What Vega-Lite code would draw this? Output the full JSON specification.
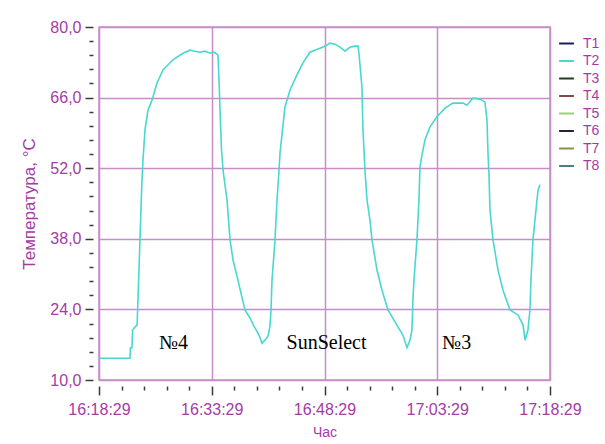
{
  "$schema": "https://vega.github.io/schema/vega-lite/v6.json",
  "autosize": {"type": "none"},
  "padding": {"left": 99, "top": 27, "right": 55, "bottom": 64},
  "width": 451,
  "height": 353,
  "background": "white",
  "config": {
    "view": {"stroke": "#c88cc8", "strokeWidth": 1.5},
    "font": "Liberation Sans"
  },
  "datasets": {
    "temps": [
      {"time": "2024-01-01T16:18:29", "value": 14.3, "series": "T2"},
      {"time": "2024-01-01T16:22:36", "value": 14.3, "series": "T2"},
      {"time": "2024-01-01T16:22:40", "value": 16.4, "series": "T2"},
      {"time": "2024-01-01T16:22:52", "value": 16.4, "series": "T2"},
      {"time": "2024-01-01T16:22:57", "value": 19.9, "series": "T2"},
      {"time": "2024-01-01T16:23:16", "value": 20.5, "series": "T2"},
      {"time": "2024-01-01T16:23:33", "value": 20.9, "series": "T2"},
      {"time": "2024-01-01T16:23:40", "value": 25.9, "series": "T2"},
      {"time": "2024-01-01T16:23:48", "value": 31.8, "series": "T2"},
      {"time": "2024-01-01T16:23:56", "value": 37.8, "series": "T2"},
      {"time": "2024-01-01T16:24:10", "value": 48.3, "series": "T2"},
      {"time": "2024-01-01T16:24:20", "value": 53.6, "series": "T2"},
      {"time": "2024-01-01T16:24:36", "value": 59.6, "series": "T2"},
      {"time": "2024-01-01T16:25:00", "value": 63.5, "series": "T2"},
      {"time": "2024-01-01T16:25:32", "value": 65.5, "series": "T2"},
      {"time": "2024-01-01T16:26:12", "value": 68.9, "series": "T2"},
      {"time": "2024-01-01T16:27:00", "value": 71.5, "series": "T2"},
      {"time": "2024-01-01T16:28:19", "value": 73.5, "series": "T2"},
      {"time": "2024-01-01T16:29:39", "value": 74.8, "series": "T2"},
      {"time": "2024-01-01T16:30:36", "value": 75.4, "series": "T2"},
      {"time": "2024-01-01T16:31:15", "value": 75.2, "series": "T2"},
      {"time": "2024-01-01T16:31:55", "value": 75.0, "series": "T2"},
      {"time": "2024-01-01T16:32:35", "value": 75.2, "series": "T2"},
      {"time": "2024-01-01T16:33:15", "value": 74.8, "series": "T2"},
      {"time": "2024-01-01T16:33:47", "value": 75.0, "series": "T2"},
      {"time": "2024-01-01T16:34:11", "value": 74.6, "series": "T2"},
      {"time": "2024-01-01T16:34:19", "value": 74.4, "series": "T2"},
      {"time": "2024-01-01T16:34:27", "value": 69.5, "series": "T2"},
      {"time": "2024-01-01T16:34:35", "value": 63.5, "series": "T2"},
      {"time": "2024-01-01T16:34:47", "value": 55.6, "series": "T2"},
      {"time": "2024-01-01T16:34:59", "value": 51.6, "series": "T2"},
      {"time": "2024-01-01T16:35:31", "value": 45.7, "series": "T2"},
      {"time": "2024-01-01T16:35:55", "value": 37.8, "series": "T2"},
      {"time": "2024-01-01T16:36:19", "value": 33.8, "series": "T2"},
      {"time": "2024-01-01T16:36:58", "value": 29.8, "series": "T2"},
      {"time": "2024-01-01T16:37:54", "value": 23.9, "series": "T2"},
      {"time": "2024-01-01T16:38:34", "value": 22.3, "series": "T2"},
      {"time": "2024-01-01T16:39:06", "value": 20.7, "series": "T2"},
      {"time": "2024-01-01T16:39:38", "value": 19.3, "series": "T2"},
      {"time": "2024-01-01T16:39:54", "value": 18.4, "series": "T2"},
      {"time": "2024-01-01T16:40:10", "value": 17.3, "series": "T2"},
      {"time": "2024-01-01T16:40:34", "value": 17.9, "series": "T2"},
      {"time": "2024-01-01T16:40:58", "value": 18.7, "series": "T2"},
      {"time": "2024-01-01T16:41:14", "value": 20.7, "series": "T2"},
      {"time": "2024-01-01T16:41:22", "value": 23.9, "series": "T2"},
      {"time": "2024-01-01T16:41:30", "value": 29.8, "series": "T2"},
      {"time": "2024-01-01T16:41:54", "value": 37.8, "series": "T2"},
      {"time": "2024-01-01T16:42:10", "value": 45.7, "series": "T2"},
      {"time": "2024-01-01T16:42:26", "value": 51.6, "series": "T2"},
      {"time": "2024-01-01T16:42:34", "value": 55.0, "series": "T2"},
      {"time": "2024-01-01T16:43:13", "value": 64.1, "series": "T2"},
      {"time": "2024-01-01T16:43:54", "value": 67.5, "series": "T2"},
      {"time": "2024-01-01T16:44:49", "value": 70.5, "series": "T2"},
      {"time": "2024-01-01T16:45:37", "value": 72.9, "series": "T2"},
      {"time": "2024-01-01T16:46:33", "value": 75.0, "series": "T2"},
      {"time": "2024-01-01T16:47:53", "value": 75.8, "series": "T2"},
      {"time": "2024-01-01T16:48:33", "value": 76.2, "series": "T2"},
      {"time": "2024-01-01T16:49:13", "value": 76.8, "series": "T2"},
      {"time": "2024-01-01T16:49:53", "value": 76.6, "series": "T2"},
      {"time": "2024-01-01T16:50:33", "value": 76.0, "series": "T2"},
      {"time": "2024-01-01T16:51:13", "value": 75.2, "series": "T2"},
      {"time": "2024-01-01T16:51:52", "value": 76.0, "series": "T2"},
      {"time": "2024-01-01T16:52:33", "value": 76.2, "series": "T2"},
      {"time": "2024-01-01T16:52:57", "value": 76.2, "series": "T2"},
      {"time": "2024-01-01T16:53:04", "value": 74.8, "series": "T2"},
      {"time": "2024-01-01T16:53:28", "value": 68.1, "series": "T2"},
      {"time": "2024-01-01T16:53:36", "value": 59.6, "series": "T2"},
      {"time": "2024-01-01T16:53:52", "value": 51.6, "series": "T2"},
      {"time": "2024-01-01T16:54:08", "value": 45.7, "series": "T2"},
      {"time": "2024-01-01T16:54:32", "value": 41.7, "series": "T2"},
      {"time": "2024-01-01T16:54:48", "value": 37.8, "series": "T2"},
      {"time": "2024-01-01T16:55:28", "value": 31.8, "series": "T2"},
      {"time": "2024-01-01T16:56:08", "value": 27.8, "series": "T2"},
      {"time": "2024-01-01T16:56:56", "value": 23.9, "series": "T2"},
      {"time": "2024-01-01T16:58:07", "value": 20.9, "series": "T2"},
      {"time": "2024-01-01T16:58:55", "value": 18.9, "series": "T2"},
      {"time": "2024-01-01T16:59:27", "value": 16.4, "series": "T2"},
      {"time": "2024-01-01T16:59:51", "value": 17.9, "series": "T2"},
      {"time": "2024-01-01T17:00:07", "value": 19.9, "series": "T2"},
      {"time": "2024-01-01T17:00:15", "value": 25.9, "series": "T2"},
      {"time": "2024-01-01T17:00:23", "value": 29.8, "series": "T2"},
      {"time": "2024-01-01T17:00:47", "value": 37.8, "series": "T2"},
      {"time": "2024-01-01T17:01:03", "value": 45.7, "series": "T2"},
      {"time": "2024-01-01T17:01:11", "value": 52.2, "series": "T2"},
      {"time": "2024-01-01T17:01:27", "value": 54.6, "series": "T2"},
      {"time": "2024-01-01T17:01:51", "value": 57.6, "series": "T2"},
      {"time": "2024-01-01T17:02:31", "value": 60.2, "series": "T2"},
      {"time": "2024-01-01T17:03:27", "value": 62.2, "series": "T2"},
      {"time": "2024-01-01T17:04:31", "value": 63.9, "series": "T2"},
      {"time": "2024-01-01T17:05:34", "value": 64.9, "series": "T2"},
      {"time": "2024-01-01T17:06:54", "value": 64.9, "series": "T2"},
      {"time": "2024-01-01T17:07:26", "value": 64.5, "series": "T2"},
      {"time": "2024-01-01T17:08:14", "value": 65.9, "series": "T2"},
      {"time": "2024-01-01T17:09:10", "value": 65.7, "series": "T2"},
      {"time": "2024-01-01T17:09:50", "value": 65.1, "series": "T2"},
      {"time": "2024-01-01T17:10:06", "value": 61.6, "series": "T2"},
      {"time": "2024-01-01T17:10:14", "value": 55.0, "series": "T2"},
      {"time": "2024-01-01T17:10:22", "value": 50.7, "series": "T2"},
      {"time": "2024-01-01T17:10:30", "value": 43.7, "series": "T2"},
      {"time": "2024-01-01T17:10:54", "value": 37.8, "series": "T2"},
      {"time": "2024-01-01T17:11:34", "value": 31.8, "series": "T2"},
      {"time": "2024-01-01T17:12:14", "value": 27.8, "series": "T2"},
      {"time": "2024-01-01T17:13:10", "value": 23.9, "series": "T2"},
      {"time": "2024-01-01T17:14:13", "value": 22.9, "series": "T2"},
      {"time": "2024-01-01T17:14:54", "value": 20.9, "series": "T2"},
      {"time": "2024-01-01T17:15:10", "value": 17.9, "series": "T2"},
      {"time": "2024-01-01T17:15:33", "value": 19.9, "series": "T2"},
      {"time": "2024-01-01T17:15:49", "value": 23.9, "series": "T2"},
      {"time": "2024-01-01T17:15:57", "value": 29.8, "series": "T2"},
      {"time": "2024-01-01T17:16:13", "value": 37.8, "series": "T2"},
      {"time": "2024-01-01T17:16:29", "value": 41.7, "series": "T2"},
      {"time": "2024-01-01T17:16:45", "value": 45.7, "series": "T2"},
      {"time": "2024-01-01T17:16:54", "value": 47.7, "series": "T2"},
      {"time": "2024-01-01T17:17:09", "value": 48.7, "series": "T2"}
    ],
    "labels": [
      {"time": "2024-01-01T16:28:24", "value": 17.4, "label": "№4"},
      {"time": "2024-01-01T16:48:45", "value": 17.4, "label": "SunSelect"},
      {"time": "2024-01-01T17:06:04", "value": 17.4, "label": "№3"}
    ]
  },
  "encoding": {
    "x": {
      "field": "time",
      "type": "temporal",
      "scale": {
        "domain": [
          {"year": 2024, "month": 1, "date": 1, "hours": 16, "minutes": 18, "seconds": 29},
          {"year": 2024, "month": 1, "date": 1, "hours": 17, "minutes": 18, "seconds": 29}
        ]
      },
      "axis": {
        "title": "Час",
        "values": [
          {"year": 2024, "month": 1, "date": 1, "hours": 16, "minutes": 18, "seconds": 29},
          {"year": 2024, "month": 1, "date": 1, "hours": 16, "minutes": 21, "seconds": 29},
          {"year": 2024, "month": 1, "date": 1, "hours": 16, "minutes": 24, "seconds": 29},
          {"year": 2024, "month": 1, "date": 1, "hours": 16, "minutes": 27, "seconds": 29},
          {"year": 2024, "month": 1, "date": 1, "hours": 16, "minutes": 30, "seconds": 29},
          {"year": 2024, "month": 1, "date": 1, "hours": 16, "minutes": 33, "seconds": 29},
          {"year": 2024, "month": 1, "date": 1, "hours": 16, "minutes": 36, "seconds": 29},
          {"year": 2024, "month": 1, "date": 1, "hours": 16, "minutes": 39, "seconds": 29},
          {"year": 2024, "month": 1, "date": 1, "hours": 16, "minutes": 42, "seconds": 29},
          {"year": 2024, "month": 1, "date": 1, "hours": 16, "minutes": 45, "seconds": 29},
          {"year": 2024, "month": 1, "date": 1, "hours": 16, "minutes": 48, "seconds": 29},
          {"year": 2024, "month": 1, "date": 1, "hours": 16, "minutes": 51, "seconds": 29},
          {"year": 2024, "month": 1, "date": 1, "hours": 16, "minutes": 54, "seconds": 29},
          {"year": 2024, "month": 1, "date": 1, "hours": 16, "minutes": 57, "seconds": 29},
          {"year": 2024, "month": 1, "date": 1, "hours": 17, "minutes": 0, "seconds": 29},
          {"year": 2024, "month": 1, "date": 1, "hours": 17, "minutes": 3, "seconds": 29},
          {"year": 2024, "month": 1, "date": 1, "hours": 17, "minutes": 6, "seconds": 29},
          {"year": 2024, "month": 1, "date": 1, "hours": 17, "minutes": 9, "seconds": 29},
          {"year": 2024, "month": 1, "date": 1, "hours": 17, "minutes": 12, "seconds": 29},
          {"year": 2024, "month": 1, "date": 1, "hours": 17, "minutes": 15, "seconds": 29},
          {"year": 2024, "month": 1, "date": 1, "hours": 17, "minutes": 18, "seconds": 29}
        ],
        "labelExpr": "minutes(datum.value) % 15 == 3 ? timeFormat(datum.value, '%H:%M:%S') : ''",
        "tickSize": {"condition": {"test": "minutes(datum.value) % 15 == 3", "value": 9}, "value": 4},
        "grid": true,
        "gridColor": "#c88cc8",
        "gridWidth": 1.5,
        "gridOpacity": {"condition": {"test": "minutes(datum.value) % 15 == 3", "value": 1}, "value": 0},
        "domain": false,
        "offset": 6,
        "tickColor": "#3a3a3a",
        "tickWidth": 1.5,
        "labelColor": "#a43ca4",
        "labelFont": "Liberation Sans",
        "labelFontSize": 16,
        "labelPadding": 6,
        "labelFlush": false,
        "labelOverlap": false,
        "titleColor": "#a43ca4",
        "titleFont": "Liberation Sans",
        "titleFontSize": 14,
        "titleFontWeight": "normal",
        "titlePadding": 8
      }
    },
    "y": {
      "field": "value",
      "type": "quantitative",
      "scale": {"domain": [10, 80], "nice": false, "zero": false},
      "axis": {
        "title": "Температура, °C",
        "values": [10, 12.8, 15.6, 18.4, 21.2, 24, 26.8, 29.6, 32.4, 35.2, 38, 40.8, 43.6, 46.4, 49.2, 52, 54.8, 57.6, 60.4, 63.2, 66, 68.8, 71.6, 74.4, 77.2, 80],
        "labelExpr": "abs((datum.value - 10) / 14 - round((datum.value - 10) / 14)) < 0.01 ? replace(format(datum.value, '.1f'), '.', ',') : ''",
        "tickSize": {"condition": {"test": "abs((datum.value - 10) / 14 - round((datum.value - 10) / 14)) < 0.01", "value": 8}, "value": 4},
        "grid": true,
        "gridColor": "#c88cc8",
        "gridWidth": 1.5,
        "gridOpacity": {"condition": {"test": "abs((datum.value - 10) / 14 - round((datum.value - 10) / 14)) < 0.01", "value": 1}, "value": 0},
        "domain": false,
        "offset": 6,
        "tickColor": "#3a3a3a",
        "tickWidth": 1.5,
        "labelColor": "#a43ca4",
        "labelFont": "Liberation Sans",
        "labelFontSize": 16,
        "labelPadding": 4,
        "labelFlush": false,
        "labelOverlap": false,
        "titleColor": "#a43ca4",
        "titleFont": "Liberation Sans",
        "titleFontSize": 17,
        "titleFontWeight": "normal",
        "titlePadding": 11
      }
    }
  },
  "layer": [
    {
      "data": {"name": "temps"},
      "mark": {"type": "line", "strokeWidth": 1.6, "interpolate": "linear"},
      "encoding": {
        "color": {
          "field": "series",
          "type": "nominal",
          "scale": {
            "domain": ["T1", "T2", "T3", "T4", "T5", "T6", "T7", "T8"],
            "range": ["#1c1c5c", "#48d8cf", "#1f3f22", "#844848", "#9ed070", "#2c1e3c", "#8c8c50", "#4c8080"]
          },
          "legend": {
            "title": null,
            "orient": "right",
            "offset": 0,
            "padding": 8,
            "symbolType": "stroke",
            "symbolSize": 220,
            "symbolStrokeWidth": 2,
            "labelFont": "Liberation Sans",
            "labelFontSize": 14,
            "labelColor": "#a43ca4",
            "labelOffset": 8,
            "rowPadding": 1.5
          }
        }
      }
    },
    {
      "data": {"name": "labels"},
      "mark": {"type": "text", "font": "Liberation Serif", "fontSize": 20, "color": "black", "align": "center", "baseline": "middle"},
      "encoding": {
        "text": {"field": "label", "type": "nominal"}
      }
    }
  ]
}
